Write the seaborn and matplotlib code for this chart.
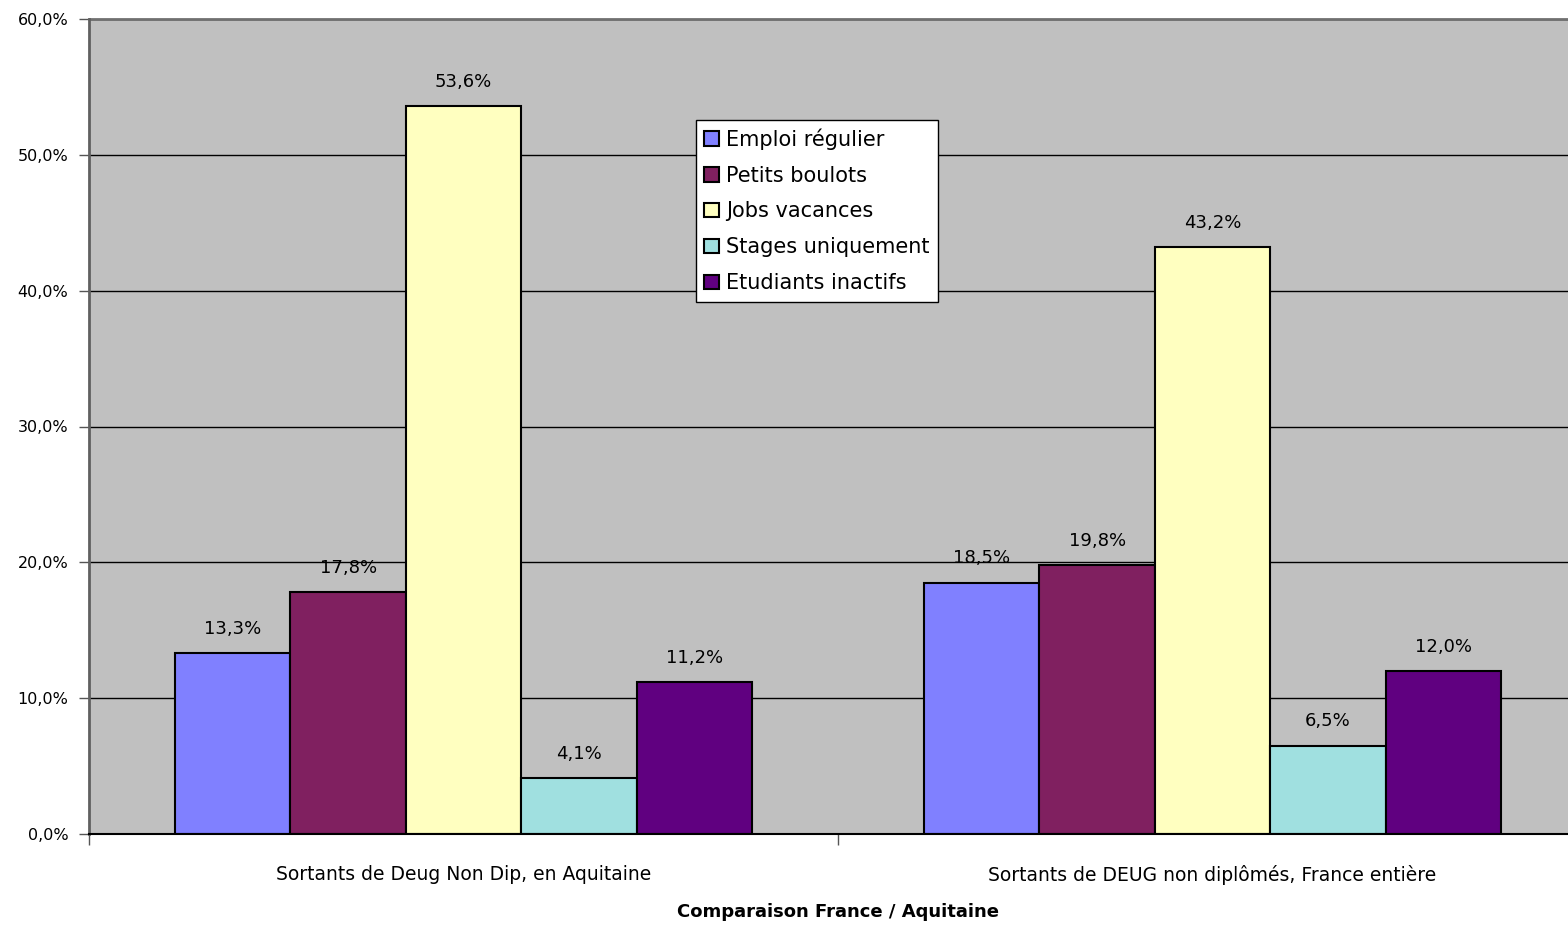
import pandas as pd
import matplotlib.pyplot as plt
import seaborn as sns
from matplotlib.ticker import FuncFormatter, FixedLocator

# Données
groupes = ["Sortants de Deug Non Dip, en Aquitaine",
           "Sortants de DEUG non diplômés, France entière"]
situations = ["Emploi régulier", "Petits boulots", "Jobs vacances",
              "Stages uniquement", "Etudiants inactifs"]
aquitaine = [13.3, 17.8, 53.6, 4.1, 11.2]
france = [18.5, 19.8, 43.2, 6.5, 12.0]
couleurs = ["#8080FF", "#802060", "#FFFFC0", "#A0E0E0", "#600080"]

df = pd.DataFrame({
    "Groupe": [groupes[0]] * 5 + [groupes[1]] * 5,
    "Situation": situations * 2,
    "Pourcentage": aquitaine + france,
})

sns.set_style("white")
plt.rcParams["font.family"] = ["DejaVu Sans"]
plt.rcParams["text.color"] = "black"
plt.rcParams["xtick.color"] = "black"
plt.rcParams["ytick.color"] = "black"
plt.rcParams["axes.labelcolor"] = "black"

fig = plt.figure(figsize=(15.68, 9.26), dpi=100)
ax = fig.add_axes([89 / 1568, 92 / 926, 1498 / 1568, 815 / 926])
ax.set_facecolor("#C0C0C0")

sns.barplot(data=df, x="Groupe", y="Pourcentage", hue="Situation",
            hue_order=situations, palette=couleurs, width=0.77, gap=0,
            edgecolor="black", linewidth=1.5, saturation=1, ax=ax)

# Etiquettes au-dessus des barres
for cont in ax.containers:
    ax.bar_label(cont, labels=[f"{v:.1f}%".replace(".", ",") for v in cont.datavalues],
                 padding=11, fontsize=13, color="black")

ax.set_xlim(-0.5, 1.5)
ax.set_ylim(0, 60)
ax.set_yticks(range(0, 61, 10))
ax.yaxis.set_major_formatter(FuncFormatter(lambda v, p: f"{v:.1f}%".replace(".", ",")))
ax.grid(axis="y", color="black", linewidth=1)
ax.set_axisbelow(True)

ax.tick_params(axis="y", left=True, length=7, width=1, color="#555555", pad=8,
               labelsize=11.5, labelcolor="black")
ax.tick_params(axis="x", which="major", bottom=False, length=0, pad=22,
               labelsize=13.5, labelcolor="black")
ax.xaxis.set_minor_locator(FixedLocator([-0.5, 0.5, 1.5]))
ax.tick_params(axis="x", which="minor", bottom=True, length=8, width=1, color="#555555")

for s in ["top", "right"]:
    ax.spines[s].set_visible(False)
ax.spines["left"].set_color("#606060")
ax.spines["left"].set_linewidth(2)
ax.spines["bottom"].set_color("black")
ax.spines["bottom"].set_linewidth(1.5)
ax.axhline(60, color="#707070", linewidth=2, clip_on=False)

ax.set_ylabel("")
ax.set_xlabel("Comparaison France / Aquitaine", fontsize=13, fontweight="bold", color="black")
ax.xaxis.set_label_coords(0.5, -(903 - 834) / 815)

leg = ax.legend(loc="upper left", bbox_to_anchor=((696 - 89) / 1498, (834 - 120) / 815),
                frameon=True, fancybox=False, fontsize=15, handlelength=0.7,
                handleheight=0.7, handletextpad=0.35, labelspacing=0.76,
                borderpad=0.4, borderaxespad=0)
leg.get_frame().set_edgecolor("black")
leg.get_frame().set_linewidth(1)
leg.get_frame().set_facecolor("white")
leg.get_frame().set_alpha(1)
for t in leg.get_texts():
    t.set_color("black")

fig.savefig("out.png", dpi=100)
